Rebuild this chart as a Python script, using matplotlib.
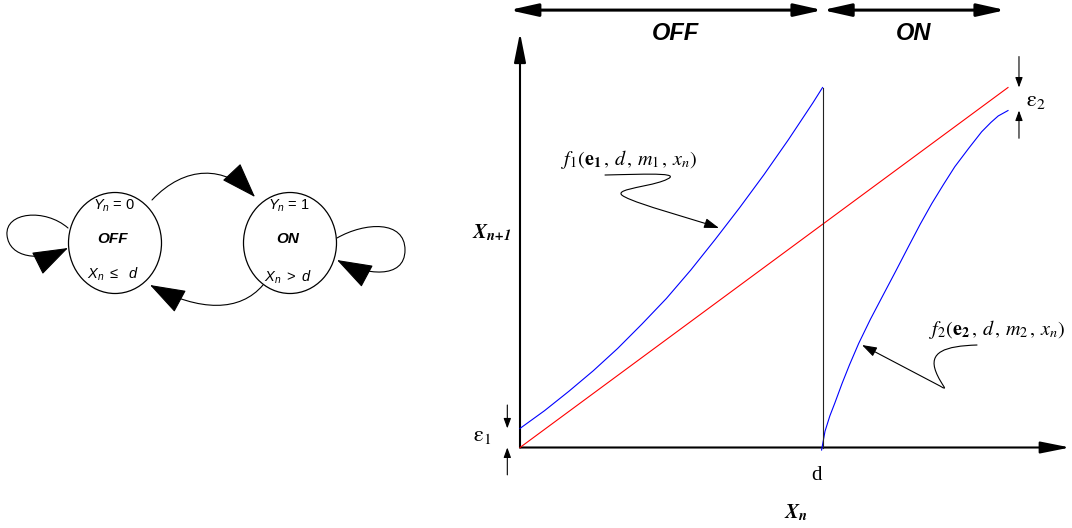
import matplotlib.pyplot as plt
from matplotlib.patches import Ellipse, FancyArrowPatch
from matplotlib.path import Path

plt.rcParams['mathtext.fontset'] = 'custom'
plt.rcParams['mathtext.rm'] = 'Liberation Sans'
plt.rcParams['mathtext.it'] = 'Liberation Sans:italic'
plt.rcParams['mathtext.bf'] = 'Liberation Sans:bold'

# return map x_n -> x_{n+1}, scaled so the identity line ends at (1, 1)
d = 0.62
identity_x = [0.0, 1.0]
identity_y = [0.0, 1.0]
# OFF branch (x_n <= d)
f1_x = [0.0, 0.05, 0.1, 0.15, 0.2, 0.25, 0.3, 0.35, 0.4, 0.45, 0.5, 0.55, 0.6, 0.62]
f1_y = [0.053, 0.102, 0.156, 0.213, 0.275, 0.343, 0.414, 0.493, 0.578, 0.666, 0.758, 0.855, 0.957, 1.0]
# ON branch (x_n > d)
f2_x = [0.618, 0.625, 0.635, 0.645, 0.66, 0.675, 0.694, 0.718, 0.742, 0.77, 0.796, 0.82,
        0.844, 0.868, 0.891, 0.92, 0.946, 0.965, 0.98, 1.0]
f2_y = [-0.007, 0.045, 0.088, 0.123, 0.178, 0.229, 0.289, 0.356, 0.418, 0.49, 0.558, 0.62,
        0.678, 0.731, 0.78, 0.832, 0.877, 0.903, 0.921, 0.936]

# state diagram labels
state_names = ['OFF', 'ON']
state_outputs = [r'$Y_n$ = 0', r'$Y_n$ = 1']
state_conditions = [r'$X_n\ \leq\ \ d$', r'$X_n\ >\ d$']


def curved_arrow(ax, verts, codes, head_length, head_width, lw=0.8):
    arr = FancyArrowPatch(path=Path(verts, codes),
                          arrowstyle=f'-|>,head_length={head_length},head_width={head_width}',
                          mutation_scale=1, lw=lw, color='black', clip_on=False,
                          transform=ax.transData)
    ax.add_patch(arr)


M, C, L = Path.MOVETO, Path.CURVE4, Path.LINETO

fig = plt.figure(figsize=(10.72, 5.28), dpi=100)

# ---- state diagram (pixel units) ----
sd = fig.add_axes([0, 0, 1, 1])
sd.set_xlim(0, 1072)
sd.set_ylim(528, 0)
sd.axis('off')

for cx, name, out, cond, cy in zip([115, 290], state_names, state_outputs, state_conditions, [274, 277]):
    sd.add_patch(Ellipse((cx, 243), 93, 101, fill=False, lw=0.9, ec='black'))
    sd.text(cx - 1, 206, out, ha='center', va='center', fontsize=10.5, family='Liberation Sans')
    sd.text(cx - 2, 239, name, ha='center', va='center', fontsize=11,
            family='Liberation Sans', weight='bold', style='italic')
    sd.text(cx - 2, cy, cond, ha='center', va='center', fontsize=10.5, family='Liberation Sans')

big = dict(head_length=23, head_width=8)
curved_arrow(sd, [(152, 200), (185, 165), (225, 165), (255, 197)], [M, C, C, C], **big)
curved_arrow(sd, [(263, 285), (240, 312), (200, 312), (150, 285)], [M, C, C, C], **big)
curved_arrow(sd, [(68, 228), (45, 208), (5, 212), (7, 235), (9, 258), (40, 262), (68, 248)],
             [M, C, C, C, C, C, C], **big)
curved_arrow(sd, [(337, 238), (365, 222), (405, 220), (405, 250), (405, 280), (365, 275), (337, 260)],
             [M, C, C, C, C, C, C], **big)

# ---- return map ----
ax = fig.add_axes([520 / 1072, 80.5 / 528, 488 / 1072, 360 / 528])
ax.set_xlim(0, 1)
ax.set_ylim(0, 1)
ax.axis('off')
ax.patch.set_visible(False)

ax.plot(identity_x, identity_y, color='#ff0000', lw=0.8, clip_on=False)
ax.plot(f1_x, f1_y, color='#0000ff', lw=0.8, clip_on=False)
ax.plot(f2_x, f2_y, color='#0000ff', lw=0.8, clip_on=False)
ax.plot([d, d], [0, f1_y[-1]], color='#222222', lw=0.8, clip_on=False)

axis_style = '-|>,head_length=18,head_width=3.6'
ax.add_patch(FancyArrowPatch((0, 0), (1.127, 0), arrowstyle=axis_style, mutation_scale=1,
                             lw=1.5, color='black', shrinkA=0, shrinkB=0, clip_on=False))
ax.add_patch(FancyArrowPatch((0, 0), (0, 1.152), arrowstyle=axis_style, mutation_scale=1,
                             lw=1.5, color='black', shrinkA=0, shrinkB=0, clip_on=False))

# OFF / ON regions along the top
band = '<|-|>,head_length=17,head_width=3.8'
ax.add_patch(FancyArrowPatch((-0.022, 1.215), (d, 1.215), arrowstyle=band, mutation_scale=1,
                             lw=2.2, color='black', shrinkA=0, shrinkB=0, clip_on=False))
ax.add_patch(FancyArrowPatch((d, 1.215), (0.995, 1.215), arrowstyle=band, mutation_scale=1,
                             lw=2.2, color='black', shrinkA=0, shrinkB=0, clip_on=False))
ax.text(0.318, 1.151, 'OFF', ha='center', va='center', fontsize=17,
        family='Liberation Sans', weight='bold', style='italic')
ax.text(0.807, 1.151, 'ON', ha='center', va='center', fontsize=17,
        family='Liberation Sans', weight='bold', style='italic')

# axis labels
ax.text(-0.098, 0.596, r'$\mathbfit{X}_{\mathbfit{n{+}1}}$', ha='left', va='center',
        fontsize=15, math_fontfamily='stix')
ax.text(0.566, -0.18, r'$\mathbfit{X}_{\mathbfit{n}}$', ha='center', va='center',
        fontsize=15, math_fontfamily='stix')
ax.text(0.6066, -0.079, 'd', ha='center', va='center', fontsize=15, family='Liberation Serif')

# offsets at both ends
small = '-|>,head_length=6,head_width=2.2'
eps1 = f1_y[0]
for y0, y1 in [(0.118, eps1), (-0.076, 0.0)]:
    ax.add_patch(FancyArrowPatch((-0.026, y0), (-0.026, y1), arrowstyle=small, mutation_scale=1,
                                 lw=0.8, color='black', shrinkA=0, shrinkB=0, clip_on=False))
ax.text(-0.078, 0.032, r'$\mathrm{ε}_{\mathit{1}}$', ha='center', va='center',
        fontsize=16, math_fontfamily='stix')
for y0, y1 in [(1.086, identity_y[-1]), (0.859, f2_y[-1])]:
    ax.add_patch(FancyArrowPatch((1.0225, y0), (1.0225, y1), arrowstyle=small, mutation_scale=1,
                                 lw=0.8, color='black', shrinkA=0, shrinkB=0, clip_on=False))
ax.text(1.037, 0.9625, r'$\mathrm{ε}_{2}$', ha='left', va='center',
        fontsize=16, math_fontfamily='stix')

# branch labels with wavy leaders
ax.text(0.223, 0.801, r'$f_{\mathit{1}}(\mathbf{e}_{\mathbf{1}}\,,\,d\,,\,m_{\mathit{1}}\,,\,x_n)$',
        ha='center', va='center', fontsize=14.5, math_fontfamily='stix')
curved_arrow(ax, [(0.1742, 0.7569), (0.2664, 0.7597), (0.3484, 0.7653), (0.2869, 0.7375),
                  (0.2459, 0.7208), (0.1844, 0.7153), (0.2152, 0.6958),
                  (0.2459, 0.6736), (0.3484, 0.6375), (0.4078, 0.6097)],
             [M, C, C, C, C, C, C, C, C, C], head_length=9, head_width=3)

ax.text(0.838, 0.3264, r'$f_{2}(\mathbf{e}_{\mathbf{2}}\,,\,d\,,\,m_{2}\,,\,x_n)$',
        ha='left', va='center', fontsize=14.5, math_fontfamily='stix')
curved_arrow(ax, [(0.9365, 0.2847), (0.8709, 0.2819), (0.8361, 0.2653), (0.8525, 0.2097),
                  (0.8627, 0.1736), (0.8811, 0.1542), (0.8607, 0.1708), (0.7008, 0.2847)],
             [M, C, C, C, C, C, C, L], head_length=9, head_width=3)

fig.savefig('out.png', dpi=100)
